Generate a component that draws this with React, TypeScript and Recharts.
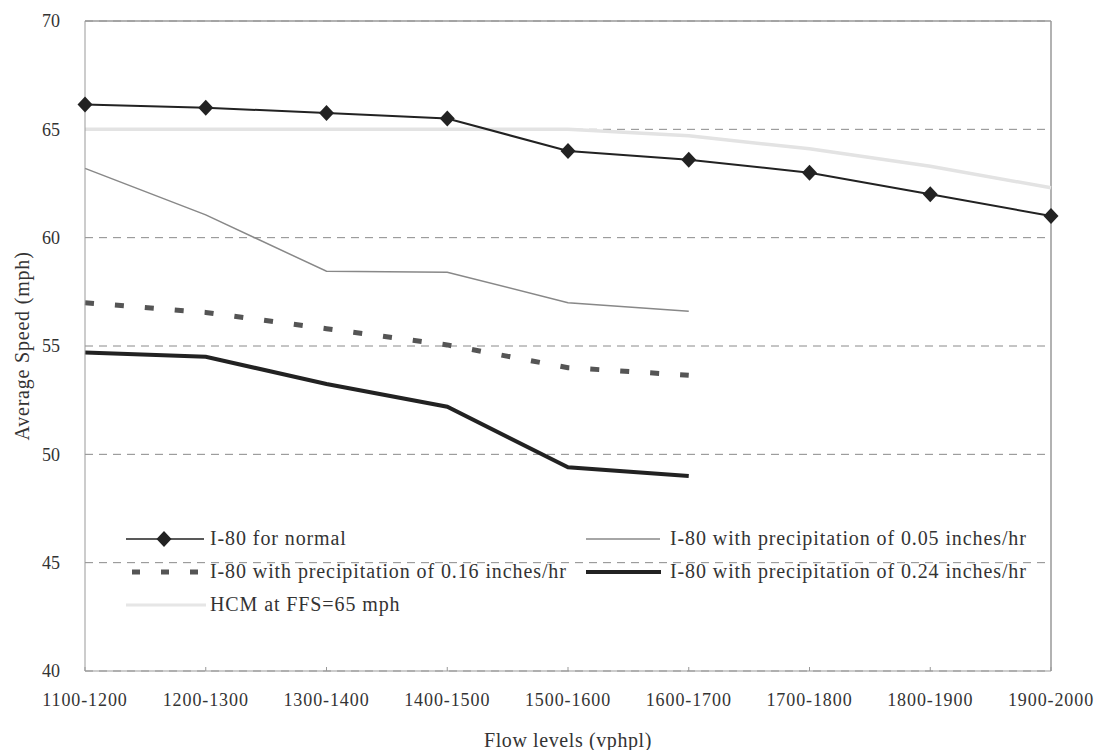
import React from 'react'
import {
  LineChart, Line, XAxis, YAxis, CartesianGrid, Legend, ReferenceLine,
} from 'recharts'

const categories = ['1100-1200', '1200-1300', '1300-1400', '1400-1500', '1500-1600', '1600-1700', '1700-1800', '1800-1900', '1900-2000']
const normalSpeed = [66.15, 66.0, 65.75, 65.5, 64.0, 63.6, 63.0, 62.0, 61.0]
const precip005 = [63.2, 61.05, 58.45, 58.4, 57.0, 56.6, null, null, null]
const precip016 = [57.0, 56.55, 55.8, 55.05, 54.0, 53.65, null, null, null]
const precip024 = [54.7, 54.5, 53.25, 52.2, 49.4, 49.0, null, null, null]
const hcmSpeed = [65, 65, 65, 65, 65, 64.7, 64.1, 63.3, 62.3]
const yTicks = [40, 45, 50, 55, 60, 65, 70]

const data = categories.map((c, i) => ({
  flow: c,
  normal: normalSpeed[i],
  p005: precip005[i],
  p016: precip016[i],
  p024: precip024[i],
  hcm: hcmSpeed[i],
}))

const FONT = '"Liberation Serif", "Times New Roman", serif'
const TEXT = '#333'
const FRAME = '#999'

const legendItems = [
  { key: 'normal', label: 'I-80 for normal' },
  { key: 'p005', label: 'I-80 with precipitation of 0.05 inches/hr' },
  { key: 'p016', label: 'I-80 with precipitation of 0.16 inches/hr' },
  { key: 'p024', label: 'I-80 with precipitation of 0.24 inches/hr' },
  { key: 'hcm', label: 'HCM at FFS=65 mph' },
]

function Diamond(props: any) {
  const { cx, cy, index } = props
  if (cx == null || cy == null) return null
  return <polygon key={index} points={`${cx},${cy - 8} ${cx + 7.5},${cy} ${cx},${cy + 8} ${cx - 7.5},${cy}`} fill="#222" />
}

function LegendSymbol({ kind }: { kind: string }) {
  return (
    <svg width={80} height={20} style={{ flex: 'none' }}>
      {kind === 'normal' && (<>
        <line x1={0} y1={10} x2={78} y2={10} stroke="#222" strokeWidth={1.5} />
        <polygon points="38,2 45.5,10 38,18 30.5,10" fill="#222" />
      </>)}
      {kind === 'p005' && <line x1={0} y1={10} x2={74} y2={10} stroke="#888" strokeWidth={1.5} />}
      {kind === 'p016' && <line x1={6} y1={10} x2={74} y2={10} stroke="#555" strokeWidth={5} strokeDasharray="8 21" />}
      {kind === 'p024' && <line x1={0} y1={10} x2={75} y2={10} stroke="#222" strokeWidth={4} />}
      {kind === 'hcm' && <line x1={0} y1={10} x2={80} y2={10} stroke="#e6e6e6" strokeWidth={3} />}
    </svg>
  )
}

function ChartLegend() {
  return (
    <div style={{ display: 'grid', gridTemplateColumns: '460px 460px', fontFamily: FONT, fontSize: 20, letterSpacing: 0.9, color: TEXT }}>
      {legendItems.map(it => (
        <div key={it.key} style={{ display: 'flex', alignItems: 'center', height: 33 }}>
          <LegendSymbol kind={it.key} />
          <span style={{ marginLeft: 4, whiteSpace: 'nowrap' }}>{it.label}</span>
        </div>
      ))}
    </div>
  )
}

function FlowTick(props: any) {
  const { x, y, payload } = props
  return (
    <g>
      <line x1={x} y1={y} x2={x} y2={y - 4} stroke={FRAME} />
      <text x={x} y={y + 35} textAnchor="middle" fontFamily={FONT} fontSize={18} fill={TEXT}
        style={{ letterSpacing: 0.9 }}>{payload.value}</text>
    </g>
  )
}

export default function App() {
  return (
    <div style={{ position: 'absolute', left: 0, top: 0, width: 1104, height: 750, background: '#fff' }}>
      <LineChart width={1104} height={750} data={data} margin={{ top: 21, right: 53, bottom: 0, left: 0 }}>
        <CartesianGrid vertical={false} stroke="#8a8a8a" strokeDasharray="8 6" />
        <XAxis dataKey="flow" scale="point" padding={{ left: 0, right: 0 }} height={79}
          stroke={FRAME} tickLine={false} tickSize={0} tickMargin={0} tick={<FlowTick />} interval={0}
          label={{ value: 'Flow levels (vphpl)', position: 'insideBottom', offset: 3, fontFamily: FONT, fontSize: 20, fill: TEXT, style: { letterSpacing: 0.6 } }} />
        <YAxis domain={[40, 70]} ticks={yTicks} width={85} stroke={FRAME} tickLine={false} tickSize={0} tickMargin={25}
          tick={{ fontFamily: FONT, fontSize: 18, fill: TEXT }}
          label={{ value: 'Average Speed (mph)', angle: -90, position: 'insideLeft', offset: 22, fontFamily: FONT, fontSize: 20, fill: TEXT, style: { textAnchor: 'middle', letterSpacing: 0.8 } }} />
        <ReferenceLine y={70} stroke={FRAME} strokeWidth={1.5} />
        <ReferenceLine x="1900-2000" stroke={FRAME} strokeWidth={1.5} />
        <Legend layout="vertical" align="center" verticalAlign="middle" content={<ChartLegend />}
          wrapperStyle={{ left: 126, top: 522, width: 940 }} />
        <Line dataKey="hcm" stroke="#e3e3e3" strokeWidth={3.5} dot={false} isAnimationActive={false} />
        <Line dataKey="p005" stroke="#888" strokeWidth={1.5} dot={false} isAnimationActive={false} />
        <Line dataKey="p016" stroke="#555" strokeWidth={5} strokeDasharray="9 21" dot={false} isAnimationActive={false} />
        <Line dataKey="p024" stroke="#222" strokeWidth={4} dot={false} isAnimationActive={false} />
        <Line dataKey="normal" stroke="#222" strokeWidth={2} dot={<Diamond />} isAnimationActive={false} />
      </LineChart>
    </div>
  )
}
